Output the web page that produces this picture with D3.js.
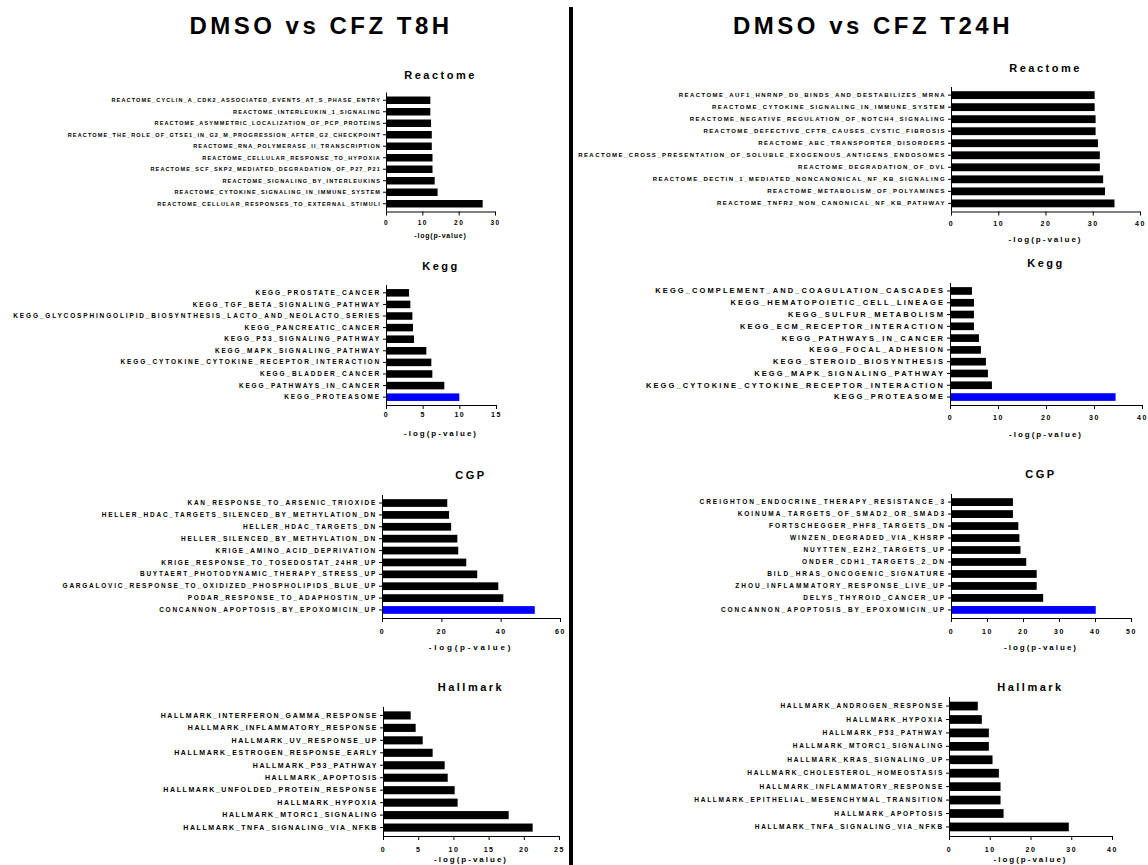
<!DOCTYPE html>
<html>
<head>
<meta charset="utf-8">
<script src="https://cdn.jsdelivr.net/npm/d3@7"></script>
<style>
  html, body { margin: 0; padding: 0; background: #fff; }
  svg text { font-family: "Liberation Sans", Arial, Helvetica, sans-serif; font-weight: bold; fill: #000; }
</style>
</head>
<body>
<svg id="fig" width="1148" height="865"></svg>
<script>
// ---- Enrichment results, -log(p-value), top 10 terms per collection ----
const t8ReactomeTerms = [
  "REACTOME_CYCLIN_A_CDK2_ASSOCIATED_EVENTS_AT_S_PHASE_ENTRY",
  "REACTOME_INTERLEUKIN_1_SIGNALING",
  "REACTOME_ASYMMETRIC_LOCALIZATION_OF_PCP_PROTEINS",
  "REACTOME_THE_ROLE_OF_GTSE1_IN_G2_M_PROGRESSION_AFTER_G2_CHECKPOINT",
  "REACTOME_RNA_POLYMERASE_II_TRANSCRIPTION",
  "REACTOME_CELLULAR_RESPONSE_TO_HYPOXIA",
  "REACTOME_SCF_SKP2_MEDIATED_DEGRADATION_OF_P27_P21",
  "REACTOME_SIGNALING_BY_INTERLEUKINS",
  "REACTOME_CYTOKINE_SIGNALING_IN_IMMUNE_SYSTEM",
  "REACTOME_CELLULAR_RESPONSES_TO_EXTERNAL_STIMULI"
];
const t8ReactomeValues = [12.2, 12.2, 12.4, 12.6, 12.6, 12.8, 12.8, 13.4, 14.2, 26.6];

const t8KeggTerms = [
  "KEGG_PROSTATE_CANCER",
  "KEGG_TGF_BETA_SIGNALING_PATHWAY",
  "KEGG_GLYCOSPHINGOLIPID_BIOSYNTHESIS_LACTO_AND_NEOLACTO_SERIES",
  "KEGG_PANCREATIC_CANCER",
  "KEGG_P53_SIGNALING_PATHWAY",
  "KEGG_MAPK_SIGNALING_PATHWAY",
  "KEGG_CYTOKINE_CYTOKINE_RECEPTOR_INTERACTION",
  "KEGG_BLADDER_CANCER",
  "KEGG_PATHWAYS_IN_CANCER",
  "KEGG_PROTEASOME"
];
const t8KeggValues = [3.14, 3.32, 3.6, 3.68, 3.82, 5.5, 6.18, 6.32, 7.95, 10.0];

const t8CgpTerms = [
  "KAN_RESPONSE_TO_ARSENIC_TRIOXIDE",
  "HELLER_HDAC_TARGETS_SILENCED_BY_METHYLATION_DN",
  "HELLER_HDAC_TARGETS_DN",
  "HELLER_SILENCED_BY_METHYLATION_DN",
  "KRIGE_AMINO_ACID_DEPRIVATION",
  "KRIGE_RESPONSE_TO_TOSEDOSTAT_24HR_UP",
  "BUYTAERT_PHOTODYNAMIC_THERAPY_STRESS_UP",
  "GARGALOVIC_RESPONSE_TO_OXIDIZED_PHOSPHOLIPIDS_BLUE_UP",
  "PODAR_RESPONSE_TO_ADAPHOSTIN_UP",
  "CONCANNON_APOPTOSIS_BY_EPOXOMICIN_UP"
];
const t8CgpValues = [22.0, 22.6, 23.3, 25.4, 25.7, 28.4, 32.1, 39.2, 40.9, 51.5];

const t8HallmarkTerms = [
  "HALLMARK_INTERFERON_GAMMA_RESPONSE",
  "HALLMARK_INFLAMMATORY_RESPONSE",
  "HALLMARK_UV_RESPONSE_UP",
  "HALLMARK_ESTROGEN_RESPONSE_EARLY",
  "HALLMARK_P53_PATHWAY",
  "HALLMARK_APOPTOSIS",
  "HALLMARK_UNFOLDED_PROTEIN_RESPONSE",
  "HALLMARK_HYPOXIA",
  "HALLMARK_MTORC1_SIGNALING",
  "HALLMARK_TNFA_SIGNALING_VIA_NFKB"
];
const t8HallmarkValues = [3.93, 4.64, 5.64, 7.05, 8.76, 9.19, 10.18, 10.6, 17.85, 21.26];

const t24ReactomeTerms = [
  "REACTOME_AUF1_HNRNP_D0_BINDS_AND_DESTABILIZES_MRNA",
  "REACTOME_CYTOKINE_SIGNALING_IN_IMMUNE_SYSTEM",
  "REACTOME_NEGATIVE_REGULATION_OF_NOTCH4_SIGNALING",
  "REACTOME_DEFECTIVE_CFTR_CAUSES_CYSTIC_FIBROSIS",
  "REACTOME_ABC_TRANSPORTER_DISORDERS",
  "REACTOME_CROSS_PRESENTATION_OF_SOLUBLE_EXOGENOUS_ANTIGENS_ENDOSOMES",
  "REACTOME_DEGRADATION_OF_DVL",
  "REACTOME_DECTIN_1_MEDIATED_NONCANONICAL_NF_KB_SIGNALING",
  "REACTOME_METABOLISM_OF_POLYAMINES",
  "REACTOME_TNFR2_NON_CANONICAL_NF_KB_PATHWAY"
];
const t24ReactomeValues = [30.4, 30.4, 30.6, 30.6, 31.1, 31.5, 31.5, 32.2, 32.6, 34.6];

const t24KeggTerms = [
  "KEGG_COMPLEMENT_AND_COAGULATION_CASCADES",
  "KEGG_HEMATOPOIETIC_CELL_LINEAGE",
  "KEGG_SULFUR_METABOLISM",
  "KEGG_ECM_RECEPTOR_INTERACTION",
  "KEGG_PATHWAYS_IN_CANCER",
  "KEGG_FOCAL_ADHESION",
  "KEGG_STEROID_BIOSYNTHESIS",
  "KEGG_MAPK_SIGNALING_PATHWAY",
  "KEGG_CYTOKINE_CYTOKINE_RECEPTOR_INTERACTION",
  "KEGG_PROTEASOME"
];
const t24KeggValues = [4.57, 4.99, 4.99, 4.99, 6.03, 6.44, 7.48, 7.9, 8.73, 34.5];

const t24CgpTerms = [
  "CREIGHTON_ENDOCRINE_THERAPY_RESISTANCE_3",
  "KOINUMA_TARGETS_OF_SMAD2_OR_SMAD3",
  "FORTSCHEGGER_PHF8_TARGETS_DN",
  "WINZEN_DEGRADED_VIA_KHSRP",
  "NUYTTEN_EZH2_TARGETS_UP",
  "ONDER_CDH1_TARGETS_2_DN",
  "BILD_HRAS_ONCOGENIC_SIGNATURE",
  "ZHOU_INFLAMMATORY_RESPONSE_LIVE_UP",
  "DELYS_THYROID_CANCER_UP",
  "CONCANNON_APOPTOSIS_BY_EPOXOMICIN_UP"
];
const t24CgpValues = [17.2, 17.2, 18.7, 19.0, 19.3, 20.9, 23.8, 23.8, 25.6, 40.2];

const t24HallmarkTerms = [
  "HALLMARK_ANDROGEN_RESPONSE",
  "HALLMARK_HYPOXIA",
  "HALLMARK_P53_PATHWAY",
  "HALLMARK_MTORC1_SIGNALING",
  "HALLMARK_KRAS_SIGNALING_UP",
  "HALLMARK_CHOLESTEROL_HOMEOSTASIS",
  "HALLMARK_INFLAMMATORY_RESPONSE",
  "HALLMARK_EPITHELIAL_MESENCHYMAL_TRANSITION",
  "HALLMARK_APOPTOSIS",
  "HALLMARK_TNFA_SIGNALING_VIA_NFKB"
];
const t24HallmarkValues = [7.06, 8.05, 9.78, 9.78, 10.68, 12.24, 12.65, 12.65, 13.39, 29.4];

// x-axis tick values per panel
const ticksReactomeT8 = [0, 10, 20, 30];
const ticksKeggT8 = [0, 5, 10, 15];
const ticksCgpT8 = [0, 20, 40, 60];
const ticksHallmarkT8 = [0, 5, 10, 15, 20, 25];
const ticksReactomeT24 = [0, 10, 20, 30, 40];
const ticksKeggT24 = [0, 10, 20, 30, 40];
const ticksCgpT24 = [0, 10, 20, 30, 40, 50];
const ticksHallmarkT24 = [0, 10, 20, 30, 40];

// terms drawn in blue
const highlightTerms = ["KEGG_PROTEASOME", "CONCANNON_APOPTOSIS_BY_EPOXOMICIN_UP"];

const comparisonTitles = ["DMSO vs CFZ T8H", "DMSO vs CFZ T24H"];
const axisTitle = "-log(p-value)";

// ---- drawing ----
const svg = d3.select("#fig");
svg.append("rect").attr("width", 1148).attr("height", 865).attr("fill", "#fff");

// column headers
svg.append("text").attr("x", 321).attr("y", 34).attr("text-anchor", "middle")
  .style("font-size", "24px").style("letter-spacing", "3.5px").text(comparisonTitles[0]);
svg.append("text").attr("x", 873).attr("y", 34).attr("text-anchor", "middle")
  .style("font-size", "24px").style("letter-spacing", "3.5px").text(comparisonTitles[1]);

// vertical separator
svg.append("rect").attr("x", 569).attr("y", 7).attr("width", 4).attr("height", 858).attr("fill", "#000");

const BLUE = "#0000ff";

function drawPanel(p) {
  const g = svg.append("g");
  const x = d3.scaleLinear().domain([0, d3.max(p.ticks)]).range([p.x0, p.x1]);
  const y = d3.scaleBand().domain(p.terms).range([p.top, p.bottom])
    .paddingInner(0.35).paddingOuter(0.35);
  const rows = p.terms.map((t, i) => ({ term: t, value: p.values[i] }));

  g.append("g").selectAll("rect").data(rows).join("rect")
    .attr("x", x(0))
    .attr("y", d => y(d.term))
    .attr("width", d => x(d.value) - x(0))
    .attr("height", y.bandwidth())
    .attr("fill", d => highlightTerms.includes(d.term) ? BLUE : "#000");

  // category axis
  const ya = g.append("g").attr("transform", `translate(${p.x0},0)`)
    .call(d3.axisLeft(y).tickSize(3).tickSizeOuter(0).tickPadding(2));
  ya.select(".domain").attr("stroke", "#000").attr("d", `M0.5,${p.top}V${p.bottom}`);
  ya.selectAll(".tick line").attr("stroke", "#000");
  ya.selectAll("text")
    .style("font-size", p.labelSize + "px")
    .style("letter-spacing", p.labelLs + "px")
    .style("font-family", '"Liberation Sans", Arial, sans-serif')
    .style("font-weight", "bold")
    .attr("fill", "#000");

  // value axis
  const xa = g.append("g").attr("transform", `translate(0,${p.bottom})`)
    .call(d3.axisBottom(x).tickValues(p.ticks).tickSize(4).tickSizeOuter(0));
  xa.select(".domain").attr("stroke", "#000");
  xa.selectAll(".tick line").attr("stroke", "#000");
  xa.selectAll("text")
    .attr("dy", null)
    .attr("y", p.tickY - p.bottom)
    .style("font-size", p.tickSize + "px")
    .style("letter-spacing", "1.5px")
    .style("font-family", '"Liberation Sans", Arial, sans-serif')
    .style("font-weight", "bold")
    .attr("fill", "#000");

  const mid = (p.x0 + p.x1) / 2;
  g.append("text").attr("x", mid).attr("y", p.axisTitleY).attr("text-anchor", "middle")
    .style("font-size", p.axisTitleSize + "px").style("letter-spacing", p.axisTitleLs + "px")
    .text(axisTitle);
  g.append("text").attr("x", mid).attr("y", p.titleY).attr("text-anchor", "middle")
    .style("font-size", "11px").style("letter-spacing", "2.5px")
    .text(p.title);
}

const panels = [
  { title: "Reactome", terms: t8ReactomeTerms, values: t8ReactomeValues, ticks: ticksReactomeT8,
    x0: 386, x1: 495, top: 92.5, bottom: 211.5, titleY: 79, tickY: 225, axisTitleY: 238,
    labelSize: 5.5, labelLs: 1.15, tickSize: 6.5, axisTitleSize: 7, axisTitleLs: 0.8 },
  { title: "Kegg", terms: t8KeggTerms, values: t8KeggValues, ticks: ticksKeggT8,
    x0: 386, x1: 496, top: 285, bottom: 405, titleY: 270, tickY: 417, axisTitleY: 436,
    labelSize: 6.5, labelLs: 1.85, tickSize: 7, axisTitleSize: 8, axisTitleLs: 2 },
  { title: "CGP", terms: t8CgpTerms, values: t8CgpValues, ticks: ticksCgpT8,
    x0: 382, x1: 560, top: 495, bottom: 618, titleY: 479, tickY: 634, axisTitleY: 650,
    labelSize: 6.5, labelLs: 1.75, tickSize: 7, axisTitleSize: 8, axisTitleLs: 2.8 },
  { title: "Hallmark", terms: t8HallmarkTerms, values: t8HallmarkValues, ticks: ticksHallmarkT8,
    x0: 383, x1: 559, top: 707, bottom: 836, titleY: 691, tickY: 852, axisTitleY: 862,
    labelSize: 7, labelLs: 1.6, tickSize: 7, axisTitleSize: 8, axisTitleLs: 2 },
  { title: "Reactome", terms: t24ReactomeTerms, values: t24ReactomeValues, ticks: ticksReactomeT24,
    x0: 951, x1: 1140, top: 87, bottom: 211.5, titleY: 72, tickY: 226, axisTitleY: 242,
    labelSize: 6, labelLs: 1.45, tickSize: 7, axisTitleSize: 8, axisTitleLs: 2 },
  { title: "Kegg", terms: t24KeggTerms, values: t24KeggValues, ticks: ticksKeggT24,
    x0: 950, x1: 1142, top: 283, bottom: 405, titleY: 267, tickY: 420, axisTitleY: 437,
    labelSize: 7.5, labelLs: 2.1, tickSize: 7, axisTitleSize: 8, axisTitleLs: 2 },
  { title: "CGP", terms: t24CgpTerms, values: t24CgpValues, ticks: ticksCgpT24,
    x0: 951, x1: 1131, top: 494, bottom: 618, titleY: 478, tickY: 634, axisTitleY: 650,
    labelSize: 6.5, labelLs: 1.95, tickSize: 7, axisTitleSize: 8, axisTitleLs: 2 },
  { title: "Hallmark", terms: t24HallmarkTerms, values: t24HallmarkValues, ticks: ticksHallmarkT24,
    x0: 949, x1: 1112, top: 697, bottom: 836, titleY: 691, tickY: 852, axisTitleY: 862,
    labelSize: 6.5, labelLs: 1.75, tickSize: 7, axisTitleSize: 8, axisTitleLs: 2 }
];

panels.forEach(drawPanel);
</script>
</body>
</html>
